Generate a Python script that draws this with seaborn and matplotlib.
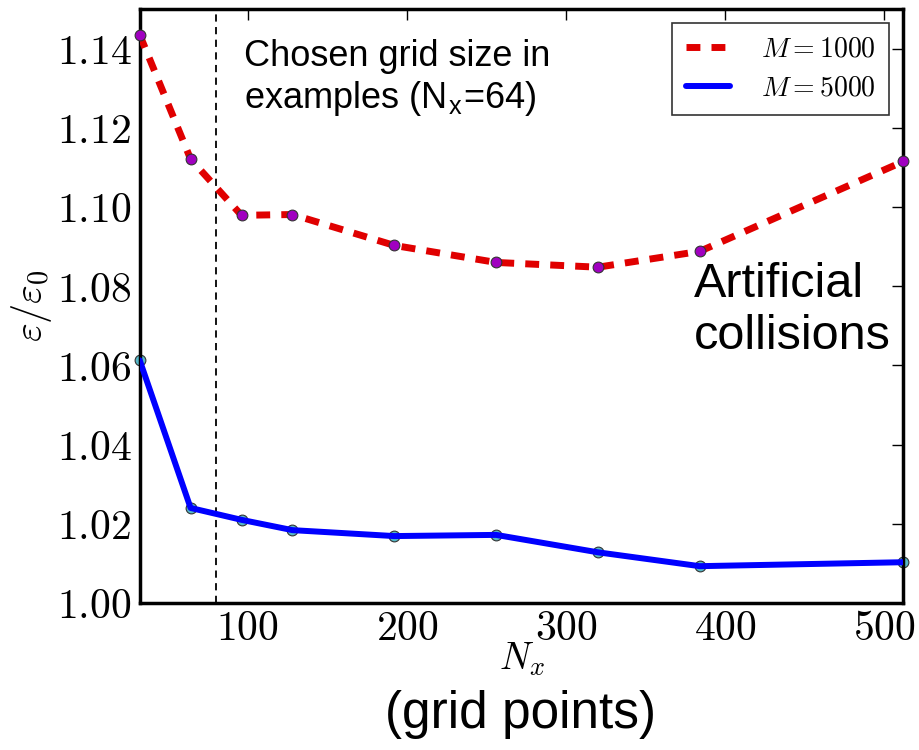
import matplotlib
matplotlib.use("Agg")
import matplotlib.pyplot as plt
import seaborn as sns
import pandas as pd
from matplotlib.ticker import FuncFormatter

# data
nx = [32, 64, 96, 128, 192, 256, 320, 384, 512]
eps_m1000 = [1.1435, 1.1121, 1.0979, 1.0981, 1.0903, 1.0860, 1.0848, 1.0888, 1.1115]
eps_m5000 = [1.0613, 1.0240, 1.0210, 1.0184, 1.0169, 1.0172, 1.0128, 1.0093, 1.0103]
chosen_nx = 80
x_ticks = [100, 200, 300, 400, 500]
y_ticks = [1.00, 1.02, 1.04, 1.06, 1.08, 1.10, 1.12, 1.14]

sns.set_style("white")
plt.rcParams["mathtext.fontset"] = "cm"
plt.rcParams["font.family"] = ["Liberation Sans", "DejaVu Sans"]
for k in ["text.color", "axes.labelcolor", "xtick.color", "ytick.color"]:
    plt.rcParams[k] = "black"

df1 = pd.DataFrame({"Nx": nx, "eps": eps_m1000})
df2 = pd.DataFrame({"Nx": nx, "eps": eps_m5000})

fig = plt.figure(figsize=(9.19, 7.5), dpi=100)
ax = fig.add_axes([0.152, 0.196, 0.831, 0.792])

sns.lineplot(data=df1, x="Nx", y="eps", ax=ax, color="#e00000", lw=5,
             linestyle=(0, (2.0, 1.6)), label=r"$M=1000$", zorder=3)
sns.scatterplot(data=df1, x="Nx", y="eps", ax=ax, color="#a000c0", s=60,
                edgecolor="#333333", linewidth=0.8, zorder=4, legend=False, clip_on=False)
sns.scatterplot(data=df2, x="Nx", y="eps", ax=ax, color="#55b8c8", s=60,
                edgecolor="#333333", linewidth=0.8, zorder=2, legend=False, clip_on=False)
sns.lineplot(data=df2, x="Nx", y="eps", ax=ax, color="#0000ff", lw=4.3,
             label=r"$M=5000$", zorder=3)

ax.axvline(chosen_nx, color="black", lw=1.3, linestyle=(0, (4, 3)), zorder=1)

ax.set_xlim(32, 512)
ax.set_ylim(1.00, 1.15)
ax.set_xticks(x_ticks)
ax.set_yticks(y_ticks)
ax.xaxis.set_major_formatter(FuncFormatter(lambda v, p: r"$%d$" % v))
ax.yaxis.set_major_formatter(FuncFormatter(lambda v, p: r"$%.2f$" % v))
ax.tick_params(direction="in", length=8, width=1, top=True, right=True,
               labelsize=30, pad=6)
ax.tick_params(axis="x", pad=4)
for s in ax.spines.values():
    s.set_linewidth(2.5)
    s.set_color("black")

ax.set_xlabel(r"$N_x$", fontsize=27, labelpad=-6)
ax.set_ylabel(r"$\varepsilon/\varepsilon_0$", fontsize=29, labelpad=2)

ax.text(0.137, 0.95, "Chosen grid size in\nexamples (N$_\\mathregular{x}$=64)",
        transform=ax.transAxes, fontsize=26, va="top", ha="left", linespacing=1.2)
ax.text(0.726, 0.493, "Artificial\ncollisions", transform=ax.transAxes,
        fontsize=35, va="center", ha="left", linespacing=1.2)
fig.text(0.566, 0.047, "(grid points)", fontsize=37, ha="center", va="center")

leg = ax.legend(loc="upper right", fontsize=20, frameon=True, fancybox=False,
                borderaxespad=0.5, handlelength=1.6, handletextpad=1.1,
                labelspacing=0.45, borderpad=0.5)
leg.get_frame().set_edgecolor("black")
leg.get_frame().set_linewidth(1.2)

fig.savefig("out.png", dpi=100)
